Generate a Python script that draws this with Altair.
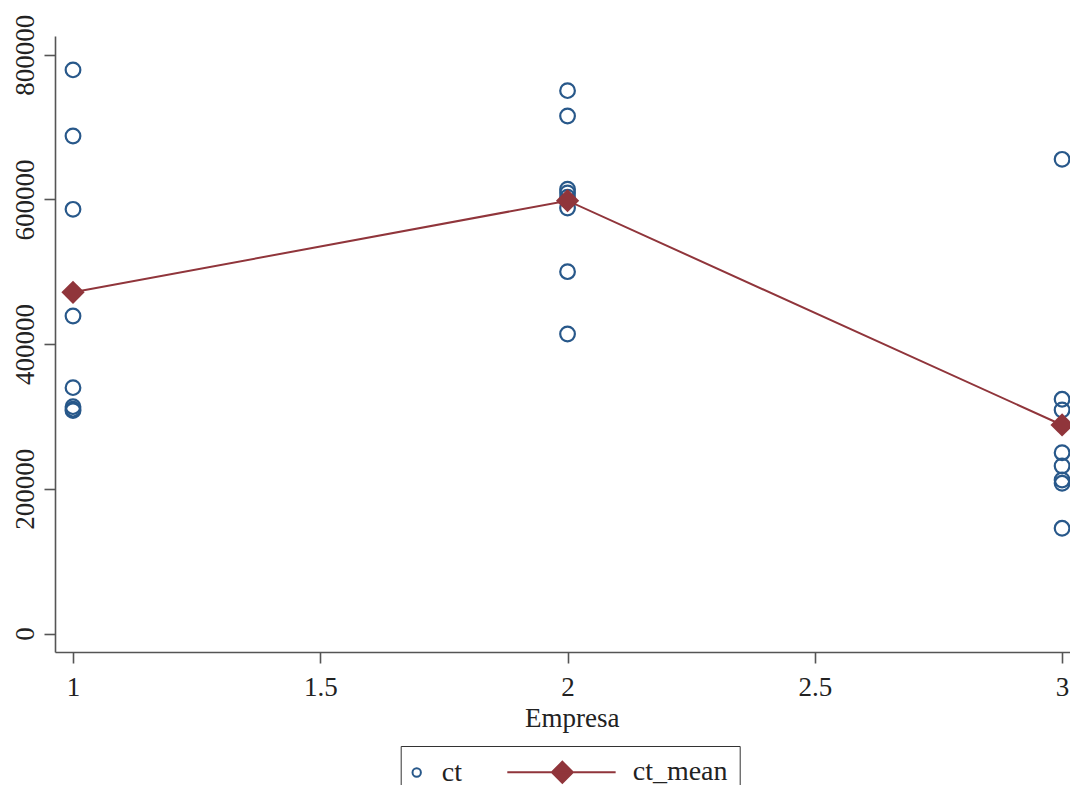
import altair as alt
import pandas as pd

# ---- data ----
empresa_1 = [779000, 687600, 586300, 438800, 339800, 313500, 310000, 308000]
empresa_2 = [750300, 715300, 614000, 609000, 603000, 588000, 500100, 414000]
empresa_3 = [655400, 323700, 308900, 249900, 231500, 212200, 207600, 145400]
mean_x = [1, 2, 3]
ct_mean = [471600, 598200, 288200]
x_ticks = [1, 1.5, 2, 2.5, 3]
y_ticks = [0, 200000, 400000, 600000, 800000]
series_names = ["ct", "ct_mean"]

rows = []
for e, vals in zip([1, 2, 3], [empresa_1, empresa_2, empresa_3]):
    for v in vals:
        rows.append({"empresa": e, "ct": v, "series": "ct"})
df_ct = pd.DataFrame(rows)
df_mean = pd.DataFrame({"empresa": mean_x, "ct_mean": ct_mean})

BLUE = "#28588a"
RED = "#90353b"
AXC = "#555555"
TXT = "#222222"
FONT = "Liberation Serif"

xscale = alt.Scale(domain=[0.9636, 3.016], nice=False, zero=False)
yscale = alt.Scale(domain=[-25570, 825850], nice=False, zero=False)

xaxis = alt.Axis(values=x_ticks, format="~g", grid=False, title="Empresa",
                 titleX=516.7, titleY=74.7, titleBaseline="alphabetic", titleAlign="center",
                 labelPadding=11, tickSize=11, labelFlush=False, labelOverlap=False)
yaxis = alt.Axis(values=y_ticks, format="d", grid=False, title=None, labelAngle=270,
                 labelAlign="center", labelBaseline="bottom", labelPadding=5, tickSize=11,
                 labelFlush=False, labelOverlap=False)

legend_path = "M-24,0L1.9,0M-10.84,-2.51L-8.33,0L-10.84,2.51L-13.35,0Z"
leg = alt.Legend(title=None, orient="none", legendX=345.7, legendY=710,
                 direction="horizontal", padding=12, strokeColor="#333333",
                 fillColor="white", labelFont=FONT, labelFontSize=28, labelColor=TXT,
                 labelOffset=11, columnPadding=40, symbolSize=70, symbolStrokeWidth=2,
                 symbolOffset=-10)

scatter = alt.Chart(df_ct).mark_point(filled=True, size=215, strokeWidth=2.2, opacity=1).encode(
    x=alt.X("empresa:Q", scale=xscale, axis=xaxis),
    y=alt.Y("ct:Q", scale=yscale, axis=yaxis),
    stroke=alt.Stroke("series:N", scale=alt.Scale(domain=series_names, range=[BLUE, RED]), legend=leg),
    fill=alt.Fill("series:N", scale=alt.Scale(domain=series_names, range=["transparent", RED]), legend=leg),
    shape=alt.Shape("series:N", scale=alt.Scale(domain=series_names, range=["circle", legend_path]), legend=leg),
)

line = alt.Chart(df_mean).mark_line(color=RED, strokeWidth=2).encode(
    x=alt.X("empresa:Q", scale=xscale, axis=xaxis),
    y=alt.Y("ct_mean:Q", scale=yscale, axis=yaxis),
)

diamonds = alt.Chart(df_mean).mark_point(shape="diamond", filled=True, color=RED,
                                         size=540, opacity=1).encode(
    x=alt.X("empresa:Q", scale=xscale, axis=xaxis),
    y=alt.Y("ct_mean:Q", scale=yscale, axis=yaxis),
)

chart = alt.layer(scatter, line, diamonds).properties(
    width=1015, height=616,
    autosize=alt.AutoSizeParams(type="none"),
    padding={"left": 47, "top": 28, "right": 0, "bottom": 133},
    background="white",
).configure_view(stroke=None).configure_axis(
    domainColor=AXC, domainWidth=1.6, tickColor=AXC, tickWidth=1.6,
    labelFont=FONT, labelFontSize=27, labelColor=TXT,
    titleFont=FONT, titleFontSize=27, titleFontWeight="normal", titleColor=TXT,
)

chart.save("out.html", embed_options={"renderer": "svg", "actions": False})
